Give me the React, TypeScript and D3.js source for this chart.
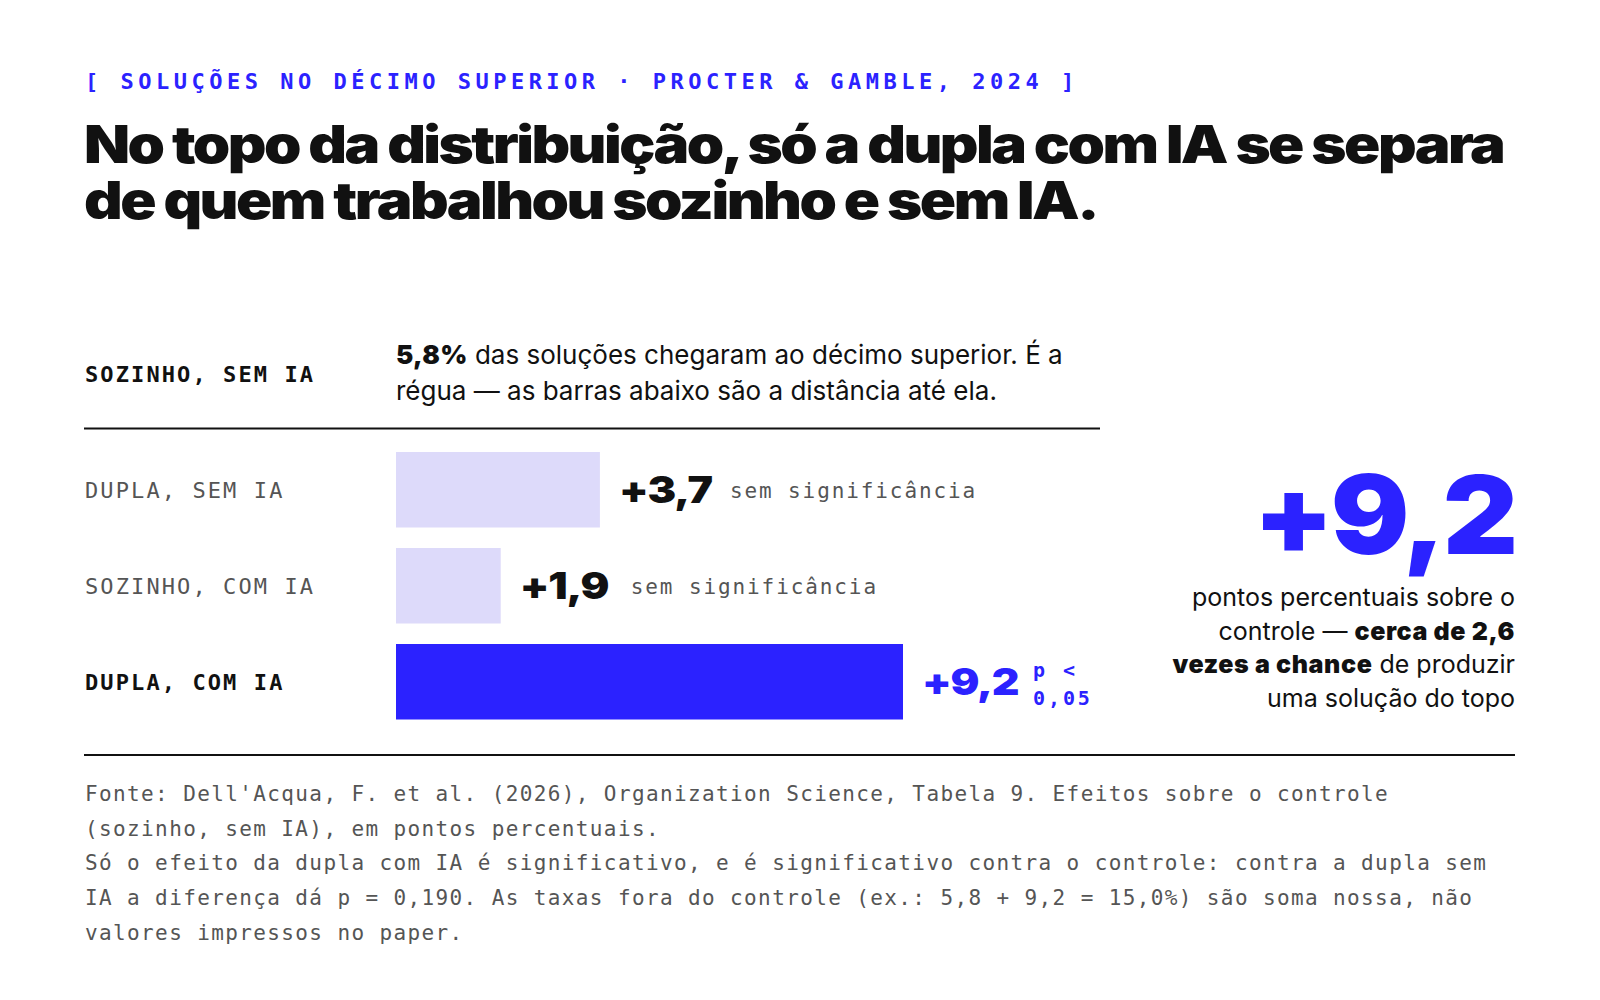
import React, { useEffect } from 'react';
import * as d3 from 'd3';

// rows of the chart: effect over control (pp)
const rowLabels = ['DUPLA, SEM IA', 'SOZINHO, COM IA', 'DUPLA, COM IA'];
const rowValues = [3.7, 1.9, 9.2];
const rowNotes = ['sem significância', 'sem significância', 'p <|0,05'];
const rowSignificant = [false, false, true];

const baselineLabel = 'SOZINHO, SEM IA';
const baselineRate = '5,8%';

const eyebrow = '[ SOLUÇÕES NO DÉCIMO SUPERIOR · PROCTER & GAMBLE, 2024 ]';
const titleLines = [
  'No topo da distribuição, só a dupla com IA se separa',
  'de quem trabalhou sozinho e sem IA.',
];
const footerLines = [
  "Fonte: Dell'Acqua, F. et al. (2026), Organization Science, Tabela 9. Efeitos sobre o controle",
  '(sozinho, sem IA), em pontos percentuais.',
  'Só o efeito da dupla com IA é significativo, e é significativo contra o controle: contra a dupla sem',
  'IA a diferença dá p = 0,190. As taxas fora do controle (ex.: 5,8 + 9,2 = 15,0%) são soma nossa, não',
  'valores impressos no paper.',
];

const BLUE = '#2b22ff';
const LIGHT = '#dddafa';
const INK = '#111111';
const GRAY = '#555555';
const MONO = '"DejaVu Sans Mono", "Liberation Mono", monospace';
const SANS = 'Inter, "Noto Sans", sans-serif';

const fmt = (v: number) => '+' + d3.format('.1f')(v).replace('.', ',');

// heavy display text is drawn a bit wider, like an extended grotesque
const wide = (x: number, y: number, s: number) => `translate(${x},${y}) scale(${s},1)`;

export default function App() {
  useEffect(() => {
    document.body.style.margin = '0';
  }, []);

  const width = 1600;
  const height = 1000;
  const left = 85;
  const right = 1515;

  const x = d3.scaleLinear().domain([0, 9.2]).range([396, 903]);
  const y = d3.scaleBand<string>()
    .domain(rowLabels)
    .range([441.75, 729.75])
    .paddingInner(20.5 / 96)
    .paddingOuter(10.25 / 96);

  return (
    <svg width={width} height={height} viewBox={`0 0 ${width} ${height}`} style={{ display: 'block', background: '#fff' }}>
      {/* eyebrow + title */}
      <text x={left} y={89} fill={BLUE} fontFamily={MONO} fontWeight={700} fontSize={22} letterSpacing={4.5}>
        {eyebrow}
      </text>
      {titleLines.map((t, i) => (
        <text key={i} transform={wide(left - 1, 163 + i * 56, 1.154)} fill={INK} fontFamily={SANS} fontWeight={900}
          fontSize={52} letterSpacing={-2.2}>
          {t}
        </text>
      ))}

      {/* baseline row */}
      <text x={left} y={382} fill={INK} fontFamily={MONO} fontWeight={700} fontSize={22} letterSpacing={2.1}>
        {baselineLabel}
      </text>
      <text x={x(0)} y={364} fill={INK} fontFamily={SANS} fontSize={26}>
        <tspan fontWeight={900} letterSpacing={0.3}>{baselineRate}</tspan>
        <tspan> das soluções chegaram ao décimo superior. É a</tspan>
      </text>
      <text x={x(0)} y={400} fill={INK} fontFamily={SANS} fontSize={26}>
        régua — as barras abaixo são a distância até ela.
      </text>
      <line x1={left - 1} x2={1100} y1={428.5} y2={428.5} stroke={INK} strokeWidth={2} />

      {/* bars */}
      {rowLabels.map((label, i) => {
        const yTop = y(label)!;
        const cy = yTop + y.bandwidth() / 2;
        const sig = rowSignificant[i];
        const end = x(rowValues[i]);
        const valX = end + 19;
        const noteX = valX + 111;
        return (
          <g key={label}>
            <text x={left} y={cy + 8} fill={sig ? INK : GRAY} fontFamily={MONO} fontWeight={sig ? 700 : 400}
              fontSize={22} letterSpacing={2.1}>
              {label}
            </text>
            <rect x={x(0)} y={yTop} width={end - x(0)} height={y.bandwidth()} fill={sig ? BLUE : LIGHT} />
            <text transform={wide(valX, cy + 13, 1.16)} fill={sig ? BLUE : INK} fontFamily={SANS} fontWeight={900}
              fontSize={37} letterSpacing={-1}>
              {fmt(rowValues[i])}
            </text>
            {sig ? (
              rowNotes[i].split('|').map((s, j) => (
                <text key={j} x={noteX} y={cy - 5 + j * 28} fill={BLUE} fontFamily={MONO} fontWeight={700}
                  fontSize={20} letterSpacing={2.9}>
                  {s}
                </text>
              ))
            ) : (
              <text x={noteX} y={cy + 8} fill={GRAY} fontFamily={MONO} fontSize={21} letterSpacing={1.9}>
                {rowNotes[i]}
              </text>
            )}
          </g>
        );
      })}

      {/* callout */}
      <text transform={wide(right, 554, 1.07)} textAnchor="end" fill={BLUE} fontFamily={SANS} fontWeight={900}
        fontSize={109} letterSpacing={-3}>
        {fmt(rowValues[2])}
      </text>
      <g fontFamily={SANS} fontSize={25} fill={INK} textAnchor="end">
        <text x={right} y={606}>pontos percentuais sobre o</text>
        <text x={right} y={640}>
          <tspan>controle — </tspan>
          <tspan fontWeight={900} letterSpacing={0.6}>cerca de 2,6</tspan>
        </text>
        <text x={right} y={673}>
          <tspan fontWeight={900} letterSpacing={0.6}>vezes a chance</tspan>
          <tspan> de produzir</tspan>
        </text>
        <text x={right} y={707}>uma solução do topo</text>
      </g>

      {/* footer */}
      <line x1={left - 1} x2={right} y1={755} y2={755} stroke={INK} strokeWidth={2} />
      {footerLines.map((t, i) => (
        <text key={i} x={left} y={801 + i * 34.7} fill={GRAY} fontFamily={MONO} fontSize={21} letterSpacing={1.38}>
          {t}
        </text>
      ))}
    </svg>
  );
}
